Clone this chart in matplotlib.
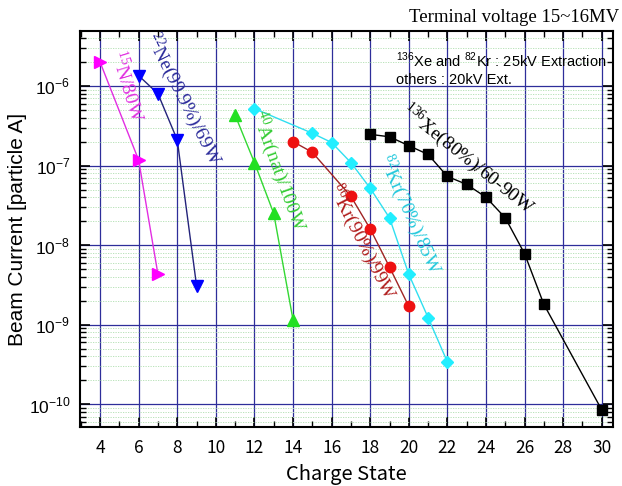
import numpy as np
import matplotlib
matplotlib.use("Agg")
import matplotlib.pyplot as plt
from matplotlib.ticker import LogLocator, MultipleLocator, NullFormatter, FuncFormatter

# ---- data ----
n15_q = [4, 6, 7]
n15_i = [2.0e-6, 1.17e-7, 4.3e-9]
ne22_q = [6, 7, 8, 9]
ne22_i = [1.35e-6, 8.0e-7, 2.1e-7, 3.1e-9]
ar40_q = [11, 12, 13, 14]
ar40_i = [4.3e-7, 1.09e-7, 2.5e-8, 1.15e-9]
kr82_q = [12, 15, 16, 17, 18, 19, 20, 21, 22]
kr82_i = [5.2e-7, 2.55e-7, 1.95e-7, 1.09e-7, 5.2e-8, 2.2e-8, 4.3e-9, 1.23e-9, 3.4e-10]
kr86_q = [14, 15, 17, 18, 19, 20]
kr86_i = [2.0e-7, 1.47e-7, 4.1e-8, 1.6e-8, 5.3e-9, 1.7e-9]
xe136_q = [18, 19, 20, 21, 22, 23, 24, 25, 26, 27, 30]
xe136_i = [2.47e-7, 2.3e-7, 1.78e-7, 1.38e-7, 7.3e-8, 5.8e-8, 4.0e-8, 2.2e-8, 7.8e-9, 1.8e-9, 8.5e-11]
x_ticks = list(range(4, 31, 2))

serif = "Liberation Serif"
sans = "Liberation Sans"

fig = plt.figure(figsize=(6.22, 4.86), dpi=100)
ax = fig.add_axes([0.1286, 0.1214, 0.8569, 0.8146])
ax.set_yscale("log")
ax.set_xlim(2.96, 30.58)
ax.set_ylim(10**-10.285, 10**-5.31)

# ticks & grids
ax.set_xticks(x_ticks)
ax.xaxis.set_minor_locator(MultipleLocator(1))
ax.yaxis.set_major_locator(LogLocator(base=10, numticks=20))
ax.yaxis.set_minor_locator(LogLocator(base=10, subs=np.arange(2, 10), numticks=20))
ax.yaxis.set_minor_formatter(NullFormatter())
ax.yaxis.set_major_formatter(FuncFormatter(
    lambda v, p: r"10$^{\mathregular{%d}}$" % int(round(np.log10(v)))))
ax.grid(True, which="major", color="#2e2e9a", linewidth=0.9)
ax.grid(True, which="minor", axis="y", color="#b0deb0", linewidth=0.6, linestyle=(0, (1.5, 1.5)))
ax.set_axisbelow(True)
ax.tick_params(which="both", direction="in", top=True, right=True)
ax.tick_params(which="major", length=7, width=1.2)
ax.tick_params(which="minor", length=4, width=1.0)
ax.tick_params(axis="x", which="major", pad=9, labelsize=12.5)
ax.tick_params(axis="y", which="major", pad=7, labelsize=12.5)
for lab in ax.get_xticklabels():
    lab.set_family("Noto Sans CJK JP")
for lab in ax.get_yticklabels():
    lab.set_family(sans)
for s in ax.spines.values():
    s.set_linewidth(1.5)

series = [
    (n15_q, n15_i, ">", "#e22ee2", "#ff00ff", 8.5),
    (ne22_q, ne22_i, "v", "#23237a", "#0000ff", 8.5),
    (ar40_q, ar40_i, "^", "#33d833", "#22e022", 8.5),
    (kr82_q, kr82_i, "D", "#30dff0", "#22eeff", 6.5),
    (kr86_q, kr86_i, "o", "#a02424", "#ee1111", 7.5),
    (xe136_q, xe136_i, "s", "#000000", "#000000", 6.5),
]
for q, i, m, lc, mc, ms in series:
    ax.plot(q, i, color=lc, linewidth=1.0, marker=m, markersize=ms,
            markerfacecolor=mc, markeredgecolor=mc, zorder=3)

labels = [
    (5.4, 1.0e-6, r"$^{\mathregular{15}}$N/80W", "#e030e0", -73),
    (8.35, 6.9e-7, r"$^{\mathregular{22}}$Ne(99.9%)/69W", "#2a2a9a", -63),
    (13.27, 8.5e-8, r"$^{\mathregular{40}}$Ar(nat)/100W", "#33cc33", -70),
    (17.57, 1.1e-8, r"$^{\mathregular{86}}$Kr(90%)/99W", "#b01c1c", -63),
    (20.06, 2.45e-8, r"$^{\mathregular{82}}$Kr(70%)/85W", "#22c8dc", -66),
    (23.07, 1.2e-7, r"$^{\mathregular{136}}$Xe(80%)/60-90W", "#000000", -38.5),
]
for x, y, t, c, r in labels:
    ax.text(x, y, t, color=c, rotation=r, rotation_mode="anchor", ha="center",
            va="center", fontsize=14, family=serif, zorder=4)

ax.set_xlabel("Charge State", fontsize=14.5, family="Noto Sans CJK JP", va="center")
ax.xaxis.set_label_coords(0.5, -0.121)
ax.set_ylabel("Beam Current [particle A]", fontsize=15, family=sans, va="center")
ax.yaxis.set_label_coords(-0.118, 0.5)

fig.text(0.995, 0.963, "Terminal voltage 15~16MV", ha="right", va="center",
         fontsize=13.5, family=serif)
ax.text(0.593, 0.95,
        "$^{\\mathregular{136}}$Xe and $^{\\mathregular{82}}$Kr : 25kV Extraction\nothers : 20kV Ext.",
        transform=ax.transAxes, ha="left", va="top", fontsize=10.5,
        family=sans, linespacing=1.3, zorder=4)

fig.savefig("out.png", dpi=100)
